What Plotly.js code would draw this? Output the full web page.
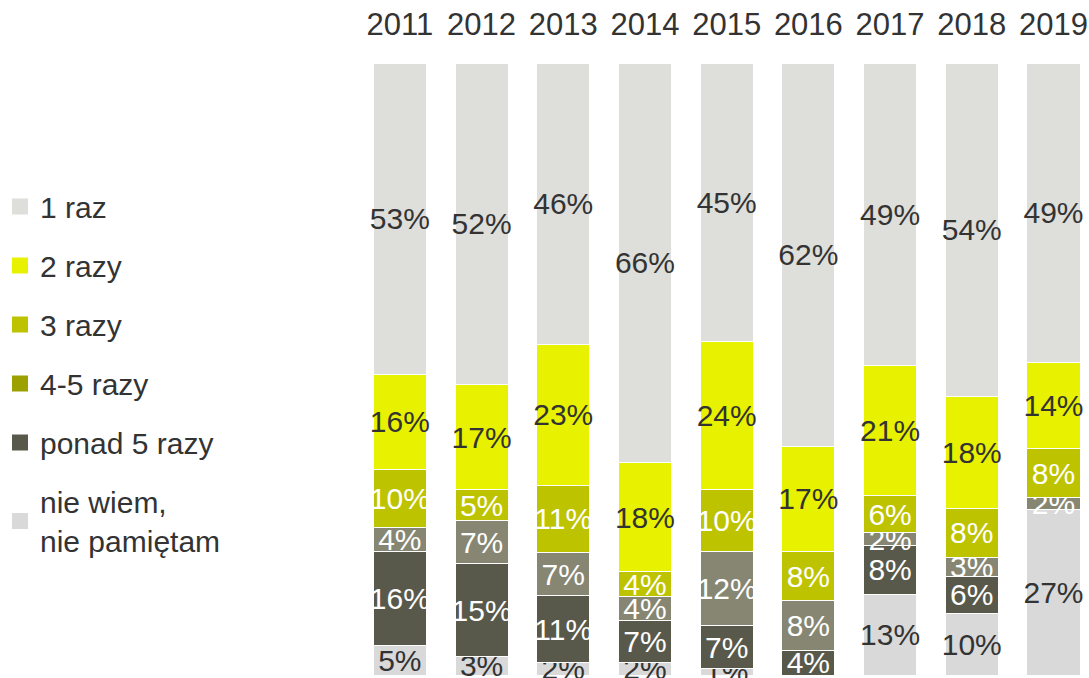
<!DOCTYPE html>
<html>
<head>
<meta charset="utf-8">
<script src="https://cdn.plot.ly/plotly-3.0.1.min.js"></script>
<style>
html,body{margin:0;padding:0;background:#fff;}
#chart{width:1089px;height:678px;}
</style>
</head>
<body>
<div id="chart"></div>
<script>
// Data
const years = ['2011','2012','2013','2014','2015','2016','2017','2018','2019'];
const raz1   = [53, 52, 46, 66, 45, 62, 49, 54, 49];
const razy2  = [16, 17, 23, 18, 24, 17, 21, 18, 14];
const razy3  = [10,  5, 11,  4, 10,  8,  6,  8,  8];
const razy45 = [ 4,  7,  7,  4, 12,  8,  2,  3,  2];
const ponad5 = [16, 15, 11,  7,  7,  4,  8,  6, null];
const niewiem= [ 5,  3,  2,  2,  1, null, 13, 10, 27];

const seriesNames = ['1 raz','2 razy','3 razy','4-5 razy','ponad 5 razy','nie wiem,<br>nie pamiętam'];

const FONT = 'Liberation Sans, Arial, sans-serif';
const DARK = '#333333';

function pct(arr){ return arr.map(v => v == null ? '' : v + '%'); }

function barTrace(name, vals, color, txtColor){
  return {
    type: 'bar', name: name, x: years, y: vals,
    marker: {color: color, line: {color: '#ffffff', width: 1}},
    text: pct(vals), textposition: 'inside', insidetextanchor: 'middle',
    textangle: 0, constraintext: 'none', cliponaxis: false,
    textfont: {family: FONT, size: 30, color: txtColor},
    insidetextfont: {family: FONT, size: 30, color: txtColor},
    showlegend: false, hoverinfo: 'x+text'
  };
}

function legendTrace(name, color, rank){
  return {
    type: 'scatter', mode: 'markers', name: name, x: [null], y: [null],
    marker: {symbol: 'square', size: 18, color: color},
    showlegend: true, legendgroup: 'g' + rank, legendrank: rank, hoverinfo: 'skip'
  };
}

const data = [
  barTrace(seriesNames[5], niewiem, '#d9d9d9', DARK),
  barTrace(seriesNames[4], ponad5, '#59594b', '#ffffff'),
  barTrace(seriesNames[3], razy45, '#868672', '#ffffff'),
  barTrace(seriesNames[2], razy3, '#bec300', '#ffffff'),
  barTrace(seriesNames[1], razy2, '#e8f200', DARK),
  barTrace(seriesNames[0], raz1, '#dededa', DARK),
  legendTrace(seriesNames[0], '#dededa', 1),
  legendTrace(seriesNames[1], '#e8f200', 2),
  legendTrace(seriesNames[2], '#bec300', 3),
  legendTrace(seriesNames[3], '#9da100', 4),
  legendTrace(seriesNames[4], '#59594b', 5),
  legendTrace(seriesNames[5], '#d9d9d9', 6)
];

const layout = {
  width: 1089, height: 678,
  margin: {l: 359, r: 0, t: 63, b: 3, pad: 0},
  paper_bgcolor: '#ffffff', plot_bgcolor: '#ffffff',
  barmode: 'stack', barnorm: 'percent', bargap: 0.35,
  font: {family: FONT, color: DARK},
  xaxis: {
    type: 'category', side: 'top', range: [-0.5, 8.435],
    showgrid: false, showline: false, zeroline: false, ticks: '',
    tickfont: {family: FONT, size: 31, color: DARK},
    ticklabelstandoff: 21, fixedrange: true
  },
  yaxis: {range: [0, 100], visible: false, fixedrange: true},
  legend: {
    x: -0.492, xanchor: 'left', y: 0.808, yanchor: 'top',
    orientation: 'v', traceorder: 'grouped', tracegroupgap: 17,
    font: {family: FONT, size: 30, color: DARK},
    bgcolor: 'rgba(0,0,0,0)', itemclick: false, itemdoubleclick: false
  },
  showlegend: true
};

Plotly.newPlot('chart', data, layout, {displayModeBar: false, staticPlot: true});
</script>
</body>
</html>
